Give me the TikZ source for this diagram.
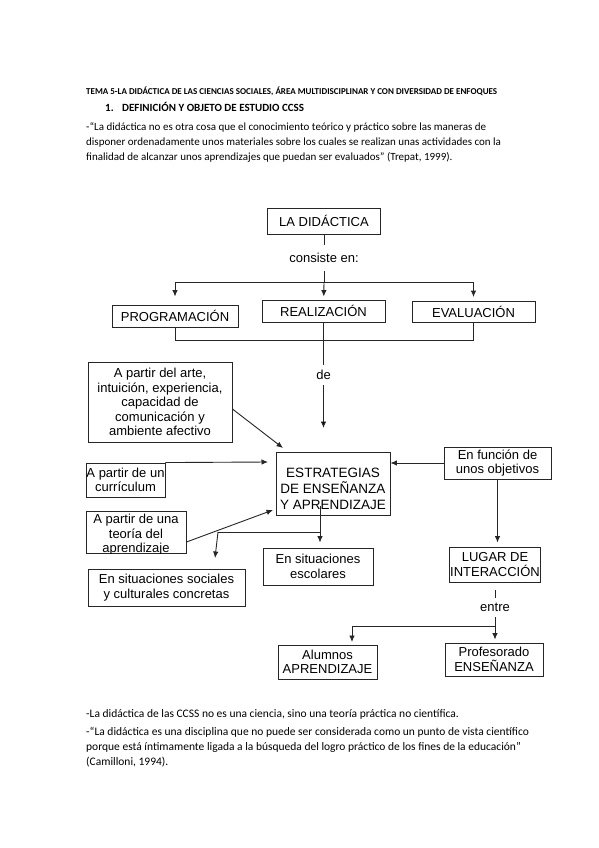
\documentclass[tikz,border=0pt]{standalone}
\usepackage{fontspec}
\setmainfont{Carlito}
\newfontfamily\arial{Liberation Sans}
\usetikzlibrary{arrows.meta}

\begin{document}
\begin{tikzpicture}[x=1pt, y=-1pt,
    box/.style={draw=black!85, line width=.9pt, font=\arial\fontsize{13}{14.5}\selectfont, align=center, inner sep=0pt},
    txt/.style={font=\arial\fontsize{13}{14.5}\selectfont, align=center, inner sep=0pt},
    lbl/.style={fill=white, font=\arial\fontsize{13}{14.5}\selectfont, inner xsep=2pt, inner ysep=5pt},
    wire/.style={draw=black!85, line width=.9pt},
    arw/.style={wire, -{Latex[length=6.5pt,width=5.5pt]}},
    doc/.style={anchor=base west, inner sep=0pt, font=\fontsize{11}{13}\selectfont}]
    \fill[white] (0, 0) rectangle (599, 848);
    \useasboundingbox (0, 0) rectangle (599, 848);

    \node[doc, font=\bfseries\fontsize{9}{10}\selectfont] at (86, 94.5)(tema){TEMA 5-LA DIDÁCTICA DE LAS CIENCIAS SOCIALES, ÁREA MULTIDISCIPLINAR Y CON DIVERSIDAD DE ENFOQUES};
    \node[doc, font=\bfseries\fontsize{11}{12}\selectfont] at (105, 111.5)(num){1.};
    \node[doc, font=\bfseries\fontsize{11}{12}\selectfont] at (122, 111.5)(definicion){DEFINICIÓN Y OBJETO DE ESTUDIO CCSS};
    \node[doc] at (86, 130.5)(cita1){-“La didáctica no es otra cosa que el conocimiento teórico y práctico sobre las maneras de};
    \node[doc] at (86, 145.5)(cita2){disponer ordenadamente unos materiales sobre los cuales se realizan unas actividades con la};
    \node[doc] at (86, 160.5)(cita3){finalidad de alcanzar unos aprendizajes que puedan ser evaluados” (Trepat, 1999).};

    \node[box, minimum width=113pt, minimum height=26pt] at (324, 221)(didactica){LA DIDÁCTICA};
    \coordinate (split) at (324, 282);
    \node[box, minimum width=126pt, minimum height=22pt] at (175, 316)(programacion){PROGRAMACIÓN};
    \node[box, minimum width=123pt, minimum height=22pt] at (323.5, 311)(realizacion){REALIZACIÓN};
    \node[box, minimum width=123pt, minimum height=21pt] at (473.5, 311.5)(evaluacion){EVALUACIÓN};
    \coordinate (detip) at (323.5, 428);

    \node[box, minimum width=144pt, minimum height=80pt] at (160, 402)(arte){A partir del arte,\\intuición, experiencia,\\capacidad de\\comunicación y\\ambiente afectivo};
    \node[box, minimum width=79pt, minimum height=34pt] at (125.5, 480)(curriculo){A partir de un\\currículum};
    \node[box, minimum width=100pt, minimum height=42pt] at (136, 532)(teoria){};
    \begin{scope}
        \clip (teoria.north west) rectangle (teoria.south east);
        \node[txt] at (136, 535)(teoriatxt){A partir de una\\teoría del\\aprendizaje};
    \end{scope}
    \node[box, minimum width=114pt, minimum height=63pt] at (333, 483.5)(estrategias){};
    \node[txt, font=\arial\fontsize{13.5}{16}\selectfont] at (333, 489)(estrategiastxt){ESTRATEGIAS\\DE ENSEÑANZA\\Y APRENDIZAJE};
    \node[box, minimum width=110pt, minimum height=37pt] at (318, 566.5)(escolares){En situaciones\\escolares};
    \node[box, minimum width=157pt, minimum height=37pt] at (166.5, 587.5)(sociales){En situaciones sociales\\y culturales concretas};
    \node[box, minimum width=107pt, minimum height=32pt] at (497.5, 463)(funcion){En función de\\unos objetivos};
    \node[box, minimum width=91pt, minimum height=35pt] at (495, 564.5)(lugar){LUGAR DE\\INTERACCIÓN};
    \node[box, minimum width=99pt, minimum height=34pt] at (327.5, 662)(alumnos){Alumnos\\APRENDIZAJE};
    \node[box, minimum width=98pt, minimum height=33pt] at (494, 659.5)(profesorado){Profesorado\\ENSEÑANZA};

    \coordinate (artetip) at (283, 448);
    \coordinate (curtip) at (268, 462);
    \coordinate (teotip) at (273, 510);
    \coordinate (bj) at (320, 532);
    \coordinate (tj) at (218, 532);
    \coordinate (stip) at (215, 558);
    \coordinate (ej) at (495, 626);
    \coordinate (atip) at (352, 642);

    \path[wire] (didactica) edge node[lbl, inner ysep=8pt]{consiste en:} (split);
    \draw[arw, shorten >=8pt] (split) -| (programacion);
    \draw[arw, shorten >=3pt] (split) -- (realizacion);
    \draw[arw, shorten >=3.5pt] (split) -| (evaluacion);
    \draw[wire] (programacion.south) -- ++(0, 13) -| (evaluacion.south);
    \path[arw] (realizacion) edge node[lbl]{de} (detip);

    \draw[arw] ([yshift=-7pt]arte.east) -- (artetip);
    \draw[arw] (curriculo.north east) -- (curtip);
    \draw[arw] ([yshift=-10pt]teoria.east) -- (teotip);
    \draw[wire] (bj |- estrategias.south) ++(0, -9) -- (bj) -- (tj);
    \draw[arw] (tj) -- (stip);
    \draw[arw, shorten >=5pt] (bj) -- (bj |- escolares.north);
    \draw[arw] (funcion) -- (funcion -| estrategias.east);
    \draw[arw, shorten >=4pt] (funcion) -- (funcion |- lugar.north);
    \draw[arw, shorten >=3pt] (lugar.south) ++(0, 8) -- node[lbl, pos=.33]{entre} (lugar.south |- profesorado.north);
    \draw[arw] (ej) -| (atip);

    \node[doc, font=\fontsize{11.5}{13}\selectfont] at (86, 717.5)(nota){-La didáctica de las CCSS no es una ciencia, sino una teoría práctica no científica.};
    \node[doc, font=\fontsize{11.5}{13}\selectfont] at (86, 735.5)(cam1){-“La didáctica es una disciplina que no puede ser considerada como un punto de vista científico};
    \node[doc, font=\fontsize{11.5}{13}\selectfont] at (86, 750.5)(cam2){porque está íntimamente ligada a la búsqueda del logro práctico de los fines de la educación”};
    \node[doc, font=\fontsize{11.5}{13}\selectfont] at (86, 765.5)(cam3){(Camilloni, 1994).};
\end{tikzpicture}
\end{document}
